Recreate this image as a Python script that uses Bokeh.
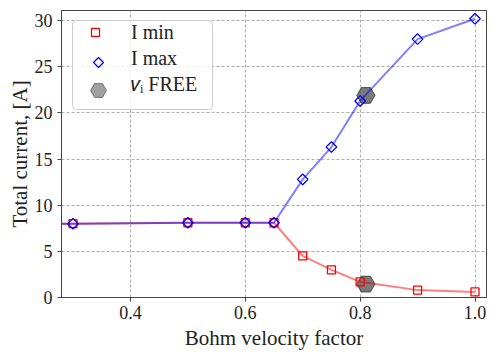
import math
from bokeh.plotting import figure
from bokeh.models import (Range1d, FixedTicker, Legend, LegendItem, PrintfTickFormatter,
                          PolyAnnotation, BoxAnnotation)
from bokeh.embed import file_html
from bokeh.resources import INLINE

# data
bohm = [0.2, 0.3, 0.5, 0.6, 0.65, 0.7, 0.75, 0.8, 0.9, 1.0]
i_min = [8.0, 8.0, 8.1, 8.1, 8.1, 4.5, 3.0, 1.7, 0.8, 0.6]
i_max = [8.0, 8.0, 8.1, 8.1, 8.1, 12.8, 16.3, 21.3, 28.0, 30.2]
free_x = [0.81, 0.81]
free_y = [21.9, 1.45]
x_ticks = [0.4, 0.6, 0.8, 1.0]
y_ticks = [0, 5, 10, 15, 20, 25, 30]

FONT = "Liberation Serif"

p = figure(frame_width=425, frame_height=287, output_backend="svg", toolbar_location=None,
           x_range=Range1d(0.28, 1.02), y_range=Range1d(0, 31.1),
           min_border_left=61, min_border_right=12, min_border_top=10, min_border_bottom=30)
p.background_fill_color = "white"
p.border_fill_color = "white"
p.outline_line_color = "#444444"
p.outline_line_width = 1

for ax in (p.xaxis[0], p.yaxis[0]):
    ax.major_label_text_font = FONT
    ax.major_label_text_font_size = "18px"
    ax.major_label_text_color = "#222222"
    ax.axis_label_text_font = FONT
    ax.axis_label_text_font_size = "21px"
    ax.axis_label_text_font_style = "normal"
    ax.axis_label_text_color = "#222222"
    ax.axis_line_color = "#444444"
    ax.major_tick_line_color = "#444444"
    ax.major_tick_out = 4
    ax.major_tick_in = 0
    ax.minor_tick_line_color = None

p.xaxis[0].ticker = FixedTicker(ticks=x_ticks)
p.xaxis[0].formatter = PrintfTickFormatter(format="%.1f")
p.yaxis[0].ticker = FixedTicker(ticks=y_ticks)
p.xaxis[0].axis_label = "Bohm velocity factor"
p.yaxis[0].axis_label = "Total current, [A]"
p.xaxis[0].major_label_standoff = 4
p.xaxis[0].axis_label_standoff = 4
p.yaxis[0].major_label_standoff = 5
p.yaxis[0].axis_label_standoff = 0

for g in (p.xgrid[0], p.ygrid[0]):
    g.grid_line_color = "#b0b0b0"
    g.grid_line_dash = "3 2"
    g.grid_line_width = 1
p.xgrid[0].ticker = FixedTicker(ticks=x_ticks)
p.ygrid[0].ticker = FixedTicker(ticks=y_ticks)

# v_i FREE hexagons (drawn twice, overlapping)
h1 = p.scatter(free_x, free_y, marker="hex", size=18, fill_color="#606060", fill_alpha=0.6,
               line_color="#404040", line_alpha=0.6, line_width=1)
p.scatter(free_x, free_y, marker="hex", size=18, fill_color="#606060", fill_alpha=0.6,
          line_color="#404040", line_alpha=0.6, line_width=1)
h_dummy = p.scatter(free_x, free_y, marker="hex", size=18, fill_alpha=0, line_alpha=0)

# I min
p.line(bohm, i_min, line_color="red", line_alpha=0.5, line_width=2)
r_min = p.scatter(bohm, i_min, marker="square", size=8, fill_color=None,
                  line_color="red", line_width=1.3)
# I max
p.line(bohm, i_max, line_color="blue", line_alpha=0.5, line_width=2)
r_max = p.scatter(bohm, i_max, marker="square", angle=math.pi / 4, size=7.5, fill_color=None,
                  line_color="blue", line_width=1.3)
max_dummy = p.scatter(bohm, i_max, marker="square", size=7.5, fill_alpha=0, line_alpha=0)

# legend frame (frame-relative screen units), drawn under the legend entries
p.add_layout(BoxAnnotation(left=11, right=151, top=277, bottom=188,
                           left_units="screen", right_units="screen",
                           top_units="screen", bottom_units="screen",
                           fill_color="white", fill_alpha=0.8,
                           line_color="#cccccc", line_alpha=1.0, line_width=1,
                           border_radius=4, level="annotation"))

# diamond glyph for the "I max" legend row
dcx, dcy, dr = 37, 235, 5
p.add_layout(PolyAnnotation(xs=[dcx - dr, dcx, dcx + dr, dcx], ys=[dcy, dcy + dr, dcy, dcy - dr],
                            xs_units="screen", ys_units="screen", level="overlay",
                            fill_color=None, fill_alpha=0, line_color="blue",
                            line_alpha=1.0, line_width=1.3))

legend = Legend(items=[LegendItem(label="I min", renderers=[r_min]),
                       LegendItem(label="I max", renderers=[max_dummy]),
                       LegendItem(label="𝑣ᵢ FREE", renderers=[h_dummy])],
                location="top_left", margin=10, padding=3, spacing=2,
                glyph_width=48, glyph_height=20, label_height=24, label_standoff=12,
                label_text_font=FONT, label_text_font_size="20px",
                label_text_color="#222222",
                border_line_color=None, background_fill_alpha=0)
p.add_layout(legend)

# larger hexagon glyph for the third legend row
legend2 = Legend(items=[LegendItem(label=" ", renderers=[h1])],
                 location="top_left", margin=17, padding=0, spacing=0,
                 glyph_width=40, glyph_height=126, label_height=10, label_standoff=0,
                 label_text_font_size="1px",
                 border_line_color=None, background_fill_alpha=0)
p.add_layout(legend2)

open("out.html", "w").write(file_html(p, INLINE))
